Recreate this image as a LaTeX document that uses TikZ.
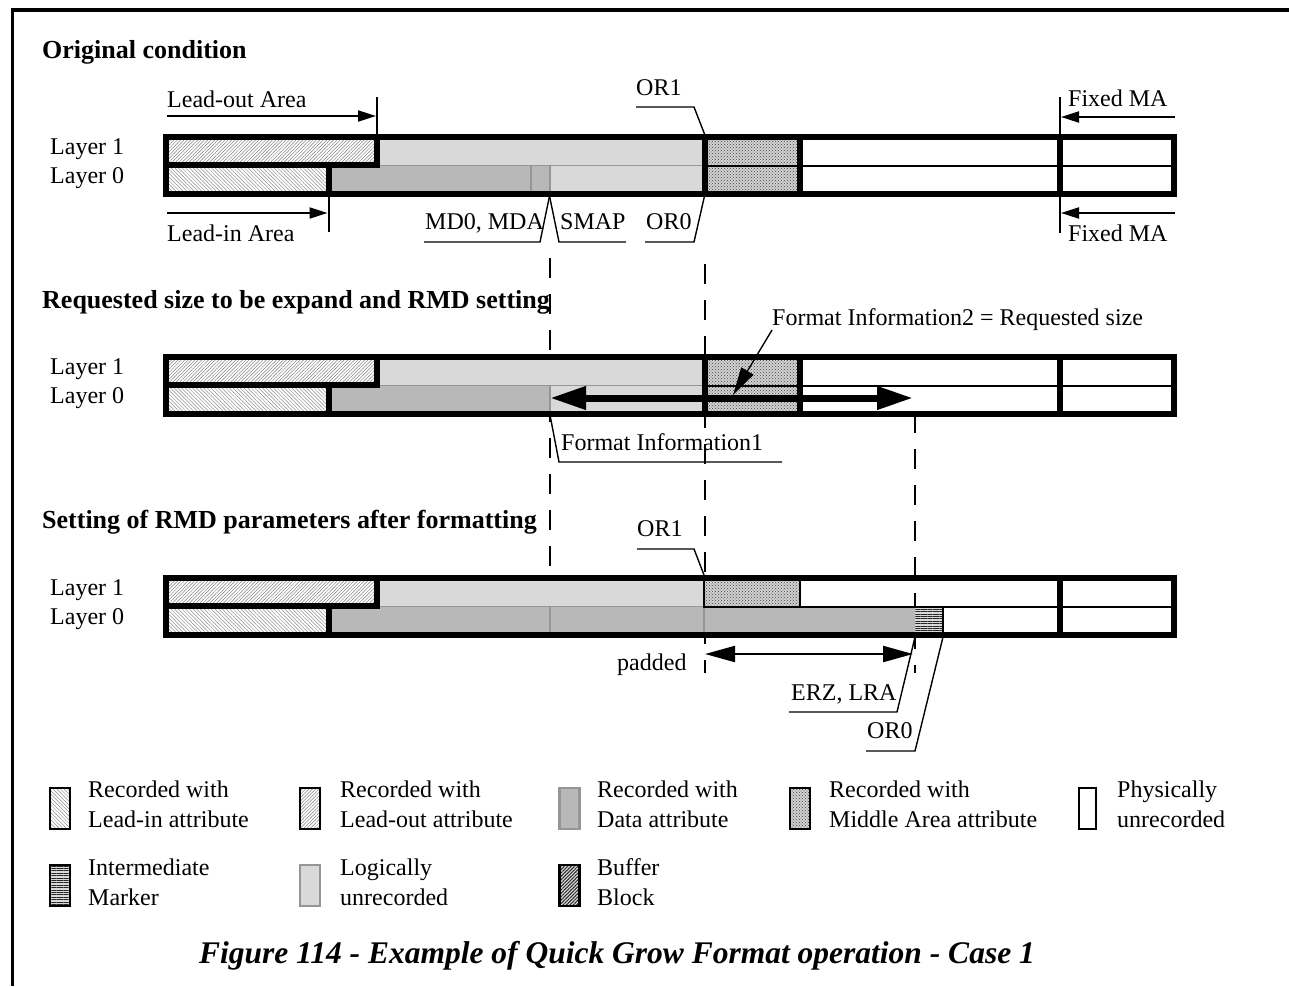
\documentclass[tikz,border=0pt]{standalone}
\usepackage{fontspec}
\setmainfont{Liberation Serif}
\usetikzlibrary{positioning, arrows.meta, patterns, patterns.meta}
\definecolor{datagray}{RGB}{184,184,184}
\definecolor{logicgray}{RGB}{217,217,217}
\definecolor{edgegray}{RGB}{150,150,150}
\newcommand{\lblfont}{\fontsize{24}{31}\selectfont}
\newcommand{\titlefont}{\fontsize{26}{31}\selectfont\bfseries}
\newcommand{\capfont}{\fontsize{31.5}{36}\selectfont\bfseries\itshape}
\tikzset{
lbl/.style={
    font=\lblfont,
    inner sep=0pt,
    anchor=base west
},
sectitle/.style={
    font=\titlefont,
    inner sep=0pt,
    anchor=base west
},
barline/.style={line width=6pt},
thinline/.style={line width=2pt},
grayline/.style={draw=edgegray, line width=1.4pt},
leaderline/.style={line width=1.4pt},
tickline/.style={line width=2pt},
guide/.style={line width=2pt, dash pattern=on 20pt off 16pt},
dimarrow/.style={line width=2pt, -{Triangle[length=18pt,width=11pt]}},
pointer/.style={line width=1.4pt, -{Triangle[length=28pt,width=14pt]}},
bigarrow/.style={line width=7pt, {Triangle[length=36pt,width=22pt]}-{Triangle[length=36pt,width=22pt]}},
padarrow/.style={line width=2.2pt, {Triangle[length=30pt,width=16pt]}-{Triangle[length=30pt,width=16pt]}},
leadinfill/.style={pattern={Lines[angle=-45,distance=2.6pt,line width=0.5pt]}, pattern color=black!45},
leadoutfill/.style={pattern={Lines[angle=45,distance=2.4pt,line width=0.5pt]}, pattern color=black!50},
datafill/.style={fill=datagray},
logicfill/.style={fill=logicgray},
middlefill/.style={preaction={fill=gray!35}, pattern=crosshatch dots, pattern color=black!75},
markerfill/.style={preaction={fill=gray!30}, pattern={Lines[angle=0,distance=2.4pt,line width=1pt]}, pattern color=black!85},
bufferfill/.style={preaction={fill=gray!30}, pattern={Lines[angle=45,distance=2.4pt,line width=1pt]}, pattern color=black!85},
swatch/.style={
    draw,
    line width=2.2pt,
    inner sep=0pt,
    minimum width=20pt,
    minimum height=41pt
}
}

\begin{document}
\begin{tikzpicture}[x=1pt, y=-1pt]
\useasboundingbox (0,0) rectangle (1289,986);

% FRAME
\draw[line width=3.3pt] (1289,10) -- (12.5,10) -- (12.5,986);

% DASHED GUIDES
\draw[guide] (549.5,258) -- (549.5,650);
\draw[guide] (704.5,264) -- (704.5,673);
\draw[guide] (915,413) -- (915,673);

% SECTION TITLES
\node[sectitle] (orig) at (42,58) {Original condition};
\node[sectitle] (req) at (42,308) {Requested size to be expand and RMD setting};
\node[sectitle] (after) at (42,528) {Setting of RMD parameters after formatting};

% LEAD-IN / LEAD-OUT AREAS
\foreach \T [count=\s] in {137,357,578}{
    \path[leadoutfill] (166,\T) rectangle (377,\T+27.5);
    \path[leadinfill] (166,\T+27.5) rectangle (328.5,\T+57);
    \node[lbl] (layerone\s) at (50,\T+17) {Layer 1};
    \node[lbl] (layerzero\s) at (50,\T+46) {Layer 0};
}

% BAR 1: ORIGINAL
\path[logicfill] (377,137) rectangle (704.5,165.5);
\path[datafill] (328.5,165.5) rectangle (550,194);
\path[logicfill] (550,165.5) rectangle (704.5,194);
\draw[grayline] (531,165.5) -- (531,194);
\draw[grayline] (550,165.5) -- (550,194);
\draw[grayline] (377,165.5) -- (704.5,165.5);
\path[middlefill] (704.5,137) rectangle (799.5,194);
\draw[thinline] (704.5,165.5) -- (1174,165.5);
\draw[barline] (704.5,137) -- (704.5,194);
\draw[barline] (799.5,137) -- (799.5,194);

% BAR 2: REQUESTED
\path[logicfill] (377,357) rectangle (704.5,385.5);
\path[datafill] (328.5,385.5) rectangle (550,414);
\path[logicfill] (550,385.5) rectangle (704.5,414);
\draw[grayline] (550,385.5) -- (550,414);
\draw[grayline] (377,385.5) -- (704.5,385.5);
\path[middlefill] (704.5,357) rectangle (799.5,414);
\draw[thinline] (704.5,385.5) -- (1174,385.5);
\draw[barline] (704.5,357) -- (704.5,414);
\draw[barline] (799.5,357) -- (799.5,414);

% BAR 3: AFTER FORMATTING
\path[logicfill] (377,578) rectangle (704,606.5);
\path[middlefill] (704,578) rectangle (800,606.5);
\path[datafill] (328.5,606.5) rectangle (915,635);
\path[markerfill] (915,606.5) rectangle (943,635);
\draw[grayline] (550,606.5) -- (550,635);
\draw[grayline] (704,606.5) -- (704,635);
\draw[grayline] (377,606.5) -- (704,606.5);
\draw[thinline] (704,578) -- (704,606.5) -- (1174,606.5);
\draw[thinline] (800,578) -- (800,606.5);
\draw[thinline] (943,606.5) -- (943,635);

% OUTLINES
\foreach \T in {137,357,578}{
    \draw[barline] (166,\T) rectangle (1174,\T+57);
    \draw[barline] (377,\T) -- (377,\T+27.5) -- (166,\T+27.5);
    \draw[barline] (328.5,\T+27.5) -- (328.5,\T+57);
    \draw[barline] (1059.5,\T) -- (1059.5,\T+57);
}

% LABELS: ORIGINAL
\node[lbl] (leadout) at (167,107) {Lead-out Area};
\coordinate (loend) at (376,116);
\draw[tickline] (377,97) -- (377,137);
\draw[dimarrow] (leadout.west |- loend) -- (loend);

\node[lbl] (leadin) at (167,241) {Lead-in Area};
\coordinate (liend) at (327.5,213);
\draw[tickline] (328.5,194) -- (328.5,232);
\draw[dimarrow] (leadin.west |- liend) -- (liend);

\node[lbl] (fixtop) at (1068,106) {Fixed MA};
\coordinate (fttail) at (1175,117);
\coordinate (fttip) at (1061,117);
\draw[tickline] (1059.5,97) -- (1059.5,137);
\draw[dimarrow] (fttail) -- (fttip);

\node[lbl] (fixbot) at (1068,241) {Fixed MA};
\coordinate (fbtail) at (1175,213);
\coordinate (fbtip) at (1061,213);
\draw[tickline] (1059.5,194) -- (1059.5,233);
\draw[dimarrow] (fbtail) -- (fbtip);

\node[lbl] (orone) at (636,95) {OR1};
\coordinate (oronept) at (704.5,134);
\draw[leaderline] (orone.base west) ++(0,12) -- ++(58,0) -- (oronept);

\coordinate (mdpt) at (549.5,196);
\node[lbl] (mdzero) at (425,229) {MD0, MDA};
\draw[leaderline] (mdzero.base west) ++(-1,13) -- ++(116,0) -- (mdpt);
\node[lbl] (smap) at (560,229) {SMAP};
\draw[leaderline] (mdpt) -- (559,242) -- (smap.base east |- 0,242);
\node[lbl] (orzero) at (646,229) {OR0};
\coordinate (orzeropt) at (704.5,196);
\draw[leaderline] (orzero.base west) ++(-1,13) -- ++(49,0) -- (orzeropt);

% LABELS: REQUESTED
\coordinate (fione) at (550,398);
\coordinate (fitwo) at (913,398);
\draw[bigarrow] (fione) -- (fitwo);

\node[lbl] (fmttwo) at (772,325) {Format Information2 = Requested size};
\coordinate (fmttwopt) at (733,395);
\draw[pointer] (fmttwo.base west) ++(0,5) -- (fmttwopt);

\node[lbl] (fmtone) at (561,450) {Format Information1};
\coordinate (fmtonept) at (550,415);
\draw[leaderline] (fmtonept) -- (559,462) -- (782,462);

% LABELS: AFTER FORMATTING
\node[lbl] (oronec) at (637,536) {OR1};
\coordinate (oronecpt) at (704,575);
\draw[leaderline] (oronec.base west) ++(0,13) -- ++(57,0) -- (oronecpt);

\node[lbl] (padded) at (617,670) {padded};
\coordinate (padstart) at (705,654);
\coordinate (padend) at (913,654);
\draw[padarrow] (padstart) -- (padend);

\node[lbl] (erz) at (791,700) {ERZ, LRA};
\coordinate (erzpt) at (915,637);
\draw[leaderline] (erz.base west) ++(-2,12) -- ++(108,0) -- (erzpt);

\node[lbl] (orzeroc) at (867,738) {OR0};
\coordinate (orzerocpt) at (943,637);
\draw[leaderline] (orzeroc.base west) ++(-1,13) -- ++(49,0) -- (orzerocpt);

% LEGEND
\node[swatch, leadinfill] (swin) at (60,808.5) {};
\node[swatch, leadoutfill] (swout) at (310,808.5) {};
\node[swatch, datafill, draw=edgegray] (swdata) at (569.5,808.5) {};
\node[swatch, middlefill] (swmid) at (800,808.5) {};
\node[swatch, fill=white, minimum width=17pt] (swphys) at (1087.5,808.5) {};
\node[swatch, markerfill] (swmark) at (60,885.5) {};
\node[swatch, logicfill, draw=edgegray] (swlogic) at (310,885.5) {};
\node[swatch, bufferfill] (swbuf) at (569.5,885.5) {};

\foreach \tx/\ty/\la/\lb [count=\i] in {
    88/797/Recorded with/Lead-in attribute,
    340/797/Recorded with/Lead-out attribute,
    597/797/Recorded with/Data attribute,
    829/797/Recorded with/Middle Area attribute,
    1117/797/Physically/unrecorded,
    88/875/Intermediate/Marker,
    340/875/Logically/unrecorded,
    597/875/Buffer/Block}{
    \node[lbl] (legtop\i) at (\tx,\ty) {\la};
    \node[lbl] (legbot\i) at (\tx,\ty+30.5) {\lb};
}

% CAPTION
\node[font=\capfont, inner sep=0pt, anchor=base west] (caption) at (199,963)
    {Figure 114 - Example of Quick Grow Format operation - Case 1};

\end{tikzpicture}
\end{document}
